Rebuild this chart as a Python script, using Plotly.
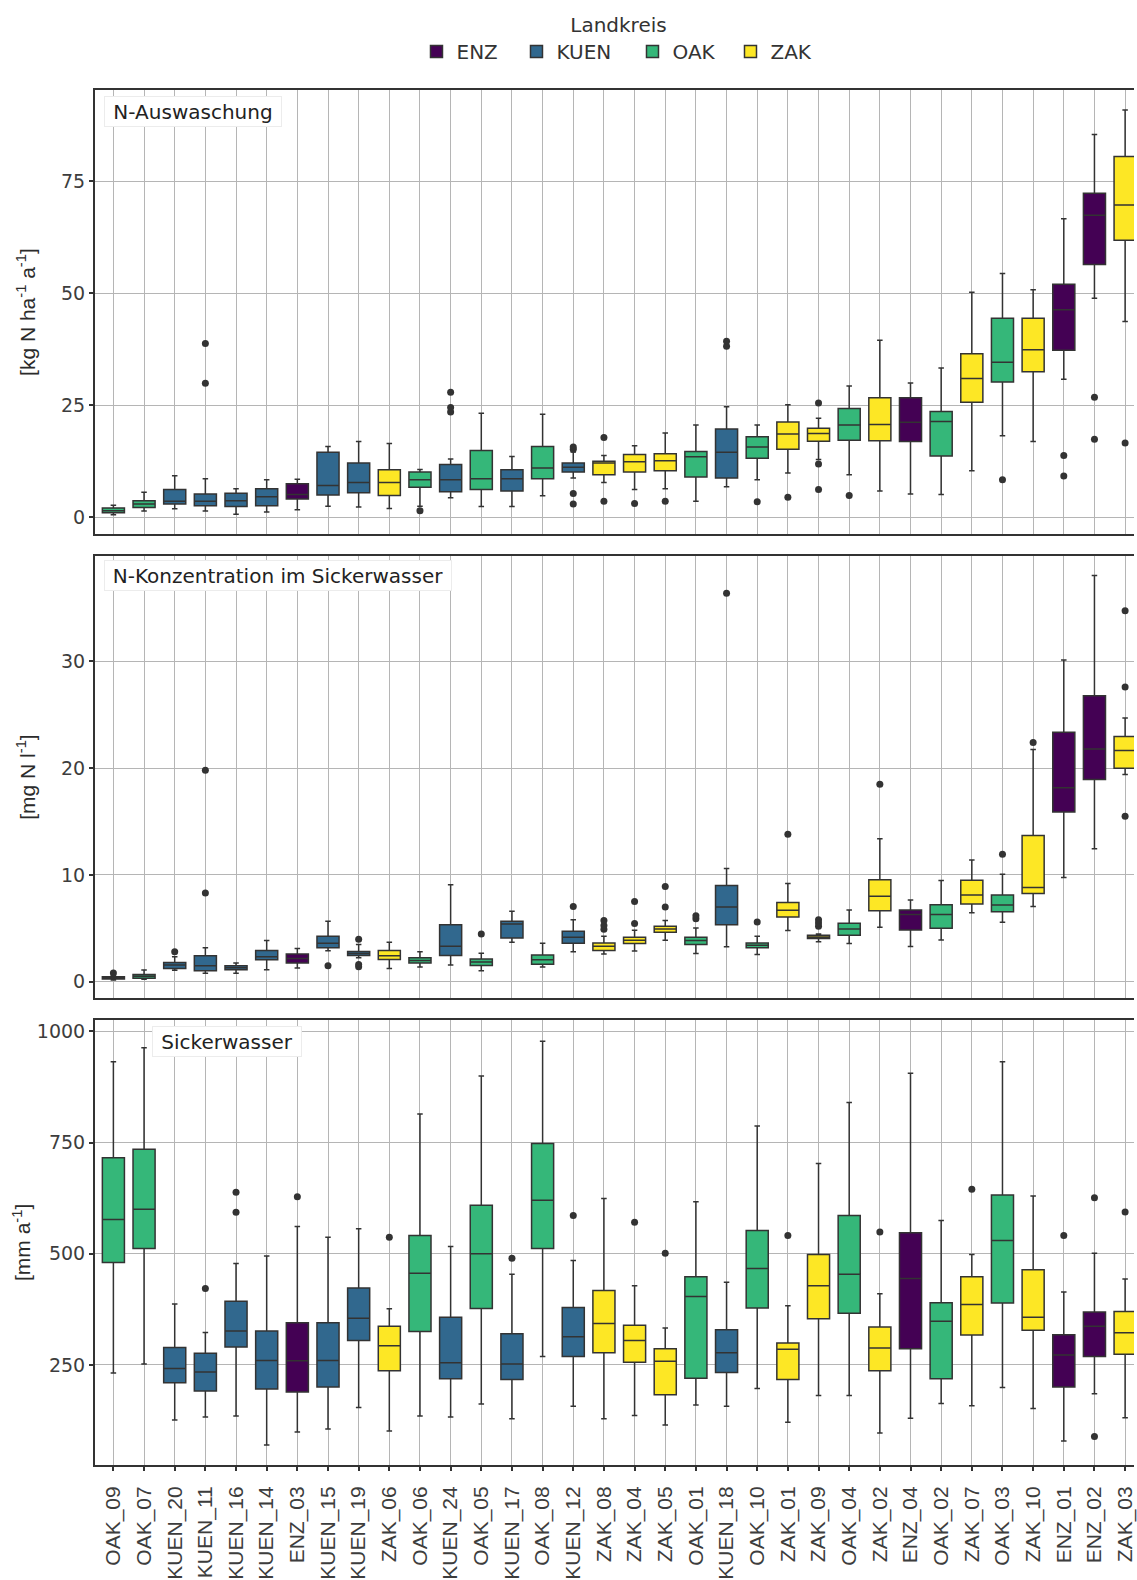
import plotly.graph_objects as go

# ---------------- data ----------------
categories = ["OAK_09", "OAK_07", "KUEN_20", "KUEN_11", "KUEN_16", "KUEN_14", "ENZ_03",
              "KUEN_15", "KUEN_19", "ZAK_06", "OAK_06", "KUEN_24", "OAK_05", "KUEN_17",
              "OAK_08", "KUEN_12", "ZAK_08", "ZAK_04", "ZAK_05", "OAK_01", "KUEN_18",
              "OAK_10", "ZAK_01", "ZAK_09", "OAK_04", "ZAK_02", "ENZ_04", "OAK_02",
              "ZAK_07", "OAK_03", "ZAK_10", "ENZ_01", "ENZ_02", "ZAK_03"]

landkreise = ["ENZ", "KUEN", "OAK", "ZAK"]
lk_colors = {"ENZ": "#440154", "KUEN": "#31688E", "OAK": "#35B779", "ZAK": "#FDE725"}

# N-Auswaschung [kg N ha-1 a-1]
ausw_low = [0.6, 1.4, 1.9, 1.4, 0.7, 1.2, 1.7, 2.5, 2.3, 2.0, 2.5, 4.4, 2.4, 2.4, 4.8, 8.8, 7.8,
            6.2, 6.4, 3.6, 6.8, 8.4, 9.9, 12.9, 9.5, 5.9, 5.2, 5.1, 10.4, 18.2, 16.9, 30.8, 48.9, 43.7]
ausw_q1 = [1.0, 2.2, 3.0, 2.6, 2.4, 2.6, 4.1, 5.0, 5.5, 4.9, 6.7, 5.7, 6.2, 5.9, 8.6, 10.1, 9.5,
           10.1, 10.4, 9.0, 8.8, 13.2, 15.2, 17.0, 17.2, 17.1, 16.9, 13.7, 25.7, 30.2, 32.5, 37.3, 56.4, 61.8]
ausw_med = [1.5, 3.0, 3.6, 3.6, 3.7, 4.6, 5.1, 7.1, 7.8, 7.8, 8.4, 8.4, 8.6, 8.6, 11.0, 11.2, 12.1,
            12.4, 12.6, 13.5, 14.5, 15.7, 18.6, 18.7, 20.6, 20.7, 21.2, 21.4, 31.0, 34.6, 37.4, 46.3, 67.4, 69.7]
ausw_q3 = [2.1, 3.7, 6.2, 5.2, 5.4, 6.4, 7.5, 14.5, 12.1, 10.6, 10.1, 11.8, 14.9, 10.6, 15.8, 12.1, 12.5,
           14.0, 14.2, 14.7, 19.7, 18.0, 21.3, 19.9, 24.3, 26.7, 26.7, 23.6, 36.5, 44.4, 44.4, 52.0, 72.3, 80.5]
ausw_high = [2.7, 5.6, 9.3, 8.6, 6.4, 8.4, 8.5, 15.8, 16.9, 16.5, 10.7, 13.0, 23.2, 13.6, 23.0, 14.6, 13.8,
             16.0, 18.8, 20.6, 24.7, 20.6, 25.1, 22.1, 29.3, 39.5, 30.0, 33.3, 50.2, 54.4, 50.8, 66.6, 85.4, 90.9]
ausw_out = [[], [], [], [29.9, 38.8], [], [], [], [], [], [], [1.5], [23.5, 24.5, 27.9], [], [], [],
            [3.0, 5.3, 15.2, 15.7], [3.6, 17.8], [3.1], [3.6], [], [38.2, 39.3], [3.5], [4.5],
            [6.2, 11.9, 25.5], [4.9], [], [], [], [], [8.4], [], [9.2, 13.8], [17.4, 26.8], [16.6]]

# N-Konzentration im Sickerwasser [mg N l-1]
konz_low = [0.15, 0.22, 1.06, 0.78, 0.78, 1.12, 1.27, 2.89, 2.24, 1.24, 1.37, 1.55, 1.03, 3.7, 1.37, 2.8, 2.6,
            2.86, 3.88, 2.64, 3.26, 2.55, 4.78, 3.73, 3.57, 5.09, 3.29, 3.91, 6.46, 5.56, 7.05, 9.75, 12.46, 19.4]
konz_q1 = [0.25, 0.31, 1.24, 1.03, 1.12, 2.05, 1.74, 3.17, 2.45, 2.08, 1.74, 2.45, 1.52, 4.1, 1.62, 3.6, 2.92,
           3.57, 4.63, 3.48, 5.34, 3.17, 6.06, 4.04, 4.35, 6.65, 4.85, 5.0, 7.27, 6.56, 8.26, 15.9, 18.93, 20.0]
konz_med = [0.33, 0.5, 1.55, 1.49, 1.3, 2.33, 2.17, 3.6, 2.64, 2.42, 1.99, 3.32, 1.83, 5.4, 2.05, 4.16, 3.32,
            3.88, 4.94, 3.85, 6.99, 3.42, 6.68, 4.19, 4.94, 8.0, 6.28, 6.28, 8.11, 7.18, 8.82, 18.17, 21.8, 21.65]
konz_q3 = [0.45, 0.68, 1.8, 2.42, 1.49, 2.92, 2.58, 4.26, 2.83, 2.92, 2.24, 5.34, 2.11, 5.65, 2.49, 4.72, 3.63,
           4.16, 5.19, 4.16, 9.0, 3.63, 7.42, 4.35, 5.47, 9.54, 6.71, 7.2, 9.51, 8.11, 13.7, 23.36, 26.78, 22.96]
konz_high = [0.6, 1.09, 2.33, 3.17, 1.74, 3.85, 3.1, 5.65, 3.48, 3.7, 2.8, 9.07, 2.67, 6.59, 3.6, 5.8, 4.26,
             4.82, 5.72, 5.03, 10.6, 4.26, 9.2, 4.47, 6.71, 13.4, 7.64, 9.48, 11.4, 10.07, 21.75, 30.13, 38.06, 24.7]
konz_out = [[0.8], [], [2.8], [8.3, 19.8], [], [], [], [1.49], [1.4, 1.6, 3.98], [], [], [], [4.47], [], [],
            [7.05], [4.9, 5.25, 5.72], [5.44, 7.52], [6.99, 8.92], [5.9, 6.18], [36.4], [5.59], [13.8],
            [5.2, 5.5, 5.8], [], [18.5], [], [], [], [11.93], [22.4], [], [], [15.5, 27.6, 34.76]]

# Sickerwasser [mm a-1]
sick_low = [232, 252, 126, 133, 135, 70, 99, 106, 154, 101, 135, 133, 162, 129, 269, 157, 129,
            136, 115, 160, 157, 197, 121, 181, 181, 97, 130, 163, 158, 199, 152, 79, 185, 131]
sick_q1 = [480, 512, 210, 191, 290, 196, 189, 200, 305, 237, 325, 219, 377, 217, 512, 269, 277,
           256, 183, 220, 233, 378, 217, 354, 366, 237, 286, 219, 317, 389, 328, 200, 269, 274]
sick_med = [577, 600, 242, 234, 326, 260, 259, 260, 355, 293, 456, 255, 500, 252, 620, 313, 343,
            305, 258, 404, 277, 467, 285, 428, 454, 288, 444, 348, 386, 530, 357, 272, 337, 322]
sick_q3 = [716, 735, 289, 276, 393, 326, 345, 345, 423, 337, 541, 357, 609, 320, 748, 379, 417,
           339, 286, 448, 329, 552, 299, 498, 586, 335, 547, 390, 448, 632, 464, 318, 369, 370]
sick_high = [932, 963, 387, 323, 478, 495, 561, 537, 556, 376, 814, 516, 900, 454, 978, 485, 624,
             428, 333, 617, 436, 787, 383, 703, 840, 410, 906, 575, 498, 932, 630, 414, 501, 443]
sick_out = [[], [], [], [422], [593, 638], [], [628], [], [], [537], [], [], [], [490], [], [586], [],
            [571], [501], [], [], [], [541], [], [], [549], [], [], [645], [], [], [541], [89, 626], [594]]

panel_labels = ["N-Auswaschung", "N-Konzentration im Sickerwasser", "Sickerwasser"]
y_titles = ["[kg N ha<sup>-1</sup> a<sup>-1</sup>]", "[mg N l<sup>-1</sup>]", "[mm a<sup>-1</sup>]"]
y_ticks = [[0, 25, 50, 75], [0, 10, 20, 30], [250, 500, 750, 1000]]
y_ranges = [[-3.7, 95.3], [-1.56, 39.9], [25, 1026]]

panels = [
    (ausw_low, ausw_q1, ausw_med, ausw_q3, ausw_high, ausw_out),
    (konz_low, konz_q1, konz_med, konz_q3, konz_high, konz_out),
    (sick_low, sick_q1, sick_med, sick_q3, sick_high, sick_out),
]

# ---------------- layout geometry (pixels) ----------------
W, H = 1137, 1580
LEFT = 95
panel_px = [(90.7, 537.0), (559.0, 1004.0), (1025.7, 1473.3)]  # (top, bottom)
legend_entry_px = {"ENZ": 55, "KUEN": 71, "OAK": 53, "ZAK": 45}


def ydom(top, bottom):
    return [1 - bottom / H, 1 - top / H]


H_FONT = "DejaVu Sans"
V_FONT = "Liberation Sans"
GRID = "#b5b5b5"
DARK = "#333333"

fig = go.Figure()

for p, (lo, q1, med, q3, hi, outl) in enumerate(panels):
    xa = "x" if p == 0 else f"x{p + 1}"
    ya = "y" if p == 0 else f"y{p + 1}"
    for lk in landkreise:
        idx = [i for i, c in enumerate(categories) if c.split("_")[0] == lk]
        fig.add_trace(go.Box(
            x=[categories[i] for i in idx],
            q1=[q1[i] for i in idx],
            median=[med[i] for i in idx],
            q3=[q3[i] for i in idx],
            lowerfence=[lo[i] for i in idx],
            upperfence=[hi[i] for i in idx],
            name=lk, legendgroup=lk, showlegend=(p == 0),
            legendwidth=legend_entry_px[lk],
            fillcolor=lk_colors[lk],
            line=dict(color=DARK, width=1.5),
            whiskerwidth=0.25, width=0.72, boxpoints=False,
            xaxis=xa, yaxis=ya,
        ))
    ox, oy = [], []
    for i, vals in enumerate(outl):
        for v in vals:
            ox.append(categories[i])
            oy.append(v)
    fig.add_trace(go.Scatter(
        x=ox, y=oy, mode="markers", showlegend=False,
        marker=dict(color=DARK, size=7),
        xaxis=xa, yaxis=ya,
    ))

layout = dict(
    width=W, height=H,
    margin=dict(l=LEFT, r=0, t=0, b=0),
    paper_bgcolor="white", plot_bgcolor="white",
    boxmode="overlay",
    font=dict(family=H_FONT, size=19, color="#222222"),
    legend=dict(
        orientation="h", x=(620 - LEFT) / (W - LEFT), xanchor="center",
        y=1 - 6 / H, yanchor="top",
        title=dict(text="Landkreis", side="top center", font=dict(family=H_FONT, size=20, color="#333333")),
        font=dict(family=H_FONT, size=20, color="#333333"),
        itemwidth=30, entrywidthmode="pixels",
    ),
    annotations=[],
)

standoffs = [20, 20, 0]
for p in range(3):
    xk = "xaxis" if p == 0 else f"xaxis{p + 1}"
    yk = "yaxis" if p == 0 else f"yaxis{p + 1}"
    ya = "y" if p == 0 else f"y{p + 1}"
    xa = "x" if p == 0 else f"x{p + 1}"
    top, bottom = panel_px[p]
    layout[xk] = dict(
        domain=[0, 1], anchor=ya, type="category",
        categoryorder="array", categoryarray=categories,
        range=[-0.6, 33.29], autorange=False,
        showline=True, mirror=True, linecolor=DARK, linewidth=2,
        showgrid=True, gridcolor=GRID, gridwidth=1.2,
        showticklabels=(p == 2), ticks="outside" if p == 2 else "",
        ticklen=4, tickwidth=1.5, tickcolor=DARK,
        tickangle=-90, tickfont=dict(family=V_FONT, size=21, color="#3d3d3d"),
        ticklabelstandoff=7,
        fixedrange=True,
    )
    layout[yk] = dict(
        domain=ydom(top, bottom), anchor=xa,
        range=y_ranges[p], autorange=False,
        tickmode="array", tickvals=y_ticks[p],
        showline=True, mirror=False, linecolor=DARK, linewidth=2,
        showgrid=True, gridcolor=GRID, gridwidth=1.2, zeroline=False,
        ticks="outside", ticklen=4, tickwidth=1.5, tickcolor=DARK,
        tickfont=dict(family=H_FONT, size=19, color="#3d3d3d"),
        title=dict(text=y_titles[p], font=dict(family=V_FONT, size=21, color="#2b2b2b"),
                   standoff=standoffs[p]),
        fixedrange=True,
    )

# panel labels (strip-like boxes inside the panels)
label_boxes = [(104, 282, 112.5), (104, 452, 579.0), (152, 302, 1047.0)]
for p, (x0, x1, yc) in enumerate(label_boxes):
    top, bottom = panel_px[p]
    xa = "x" if p == 0 else f"x{p + 1}"
    ya = "y" if p == 0 else f"y{p + 1}"
    layout["annotations"].append(dict(
        text=panel_labels[p], showarrow=False,
        xref=f"{xa} domain", yref=f"{ya} domain",
        x=(x0 - LEFT) / (W - LEFT), xanchor="left",
        y=(bottom - yc) / (bottom - top), yanchor="middle",
        width=(x1 - x0) - 8, height=23, align="center", valign="middle",
        bgcolor="white", bordercolor="#ececec", borderwidth=1, borderpad=3,
        font=dict(family=H_FONT, size=20, color="#222222"),
    ))

fig.update_layout(**layout)
fig.write_html("out.html")
